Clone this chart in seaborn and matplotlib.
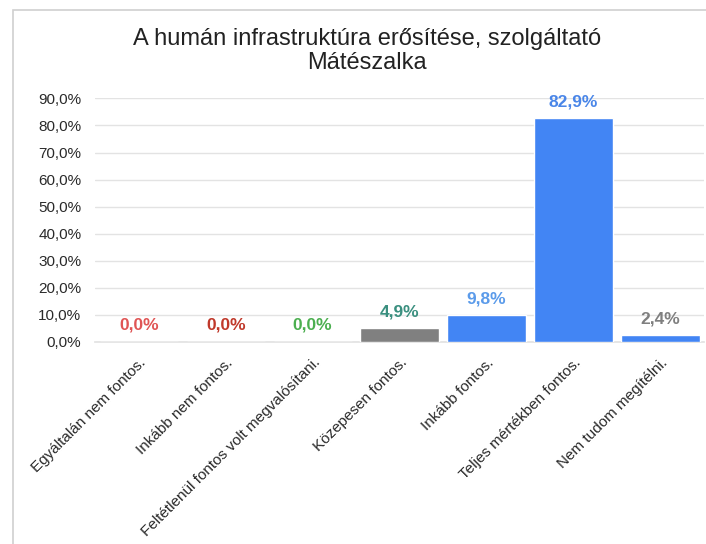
import matplotlib
matplotlib.use("Agg")
import matplotlib.pyplot as plt
import matplotlib.patches as mpatches
from matplotlib.ticker import FuncFormatter
import seaborn as sns
import pandas as pd

# ── Data ──────────────────────────────────────────────────────
categories = [
    "Egyáltalán nem fontos.",
    "Inkább nem fontos.",
    "Feltétlenül fontos volt megvalósítani.",
    "Közepesen fontos.",
    "Inkább fontos.",
    "Teljes mértékben fontos.",
    "Nem tudom megítélni.",
]
values = [0.0, 0.0, 0.0, 4.9, 9.8, 82.9, 2.4]
bar_colors = ["#4285f4", "#4285f4", "#4285f4", "#808080", "#4285f4", "#4285f4", "#4285f4"]
label_colors = ["#e05555", "#c0392b", "#4caf50", "#3a8f7f", "#5b9bea", "#4a86e8", "#7f7f7f"]
title = "A humán infrastruktúra erősítése, szolgáltató\nMátészalka"

df = pd.DataFrame({"cat": categories, "val": values})

sns.set_theme(style="white")
plt.rcParams["font.family"] = ["Liberation Sans", "DejaVu Sans"]

fig = plt.figure(figsize=(7.06, 5.44), dpi=100)
ax = fig.add_axes([0.135, 0.372, 0.862, 0.447])

sns.barplot(data=df, x="cat", y="val", hue="cat", palette=bar_colors,
            legend=False, width=0.9, saturation=1, ax=ax, zorder=3)

ax.set_ylim(0, 90)
ax.set_yticks(range(0, 91, 10))
ax.yaxis.set_major_formatter(FuncFormatter(lambda v, _: f"{v:.1f}%".replace(".", ",")))
ax.grid(axis="y", color="#e3e3e3", lw=1, zorder=0)
for s in ["top", "right", "left"]:
    ax.spines[s].set_visible(False)
ax.spines["bottom"].set_color("#e3e3e3")
ax.set_xlabel("")
ax.set_ylabel("")
ax.set_xlim(-0.5, 6.5)
ax.tick_params(axis="y", labelsize=11, colors="#2a2a2a", length=0, pad=10)
ax.tick_params(axis="x", length=0, pad=10)
plt.setp(ax.get_xticklabels(), rotation=45, ha="right", rotation_mode="anchor",
         fontsize=11, color="#2a2a2a")

for i, (v, c) in enumerate(zip(values, label_colors)):
    ax.text(i, v + 3.2, f"{v:.1f}%".replace(".", ","), ha="center", va="bottom",
            fontsize=12.5, fontweight="bold", color=c)

fig.text(0.52, 0.949, title, ha="center", va="top", fontsize=17,
         color="#222222", linespacing=1.12)

# thin frame around the chart
fig.patches.append(mpatches.Rectangle((13 / 706, -0.05), 1.0, 1 - 10 / 544 + 0.05,
                                      transform=fig.transFigure, fill=False,
                                      edgecolor="#d0d0d0", lw=1.2))

fig.savefig("out.png", dpi=100)
